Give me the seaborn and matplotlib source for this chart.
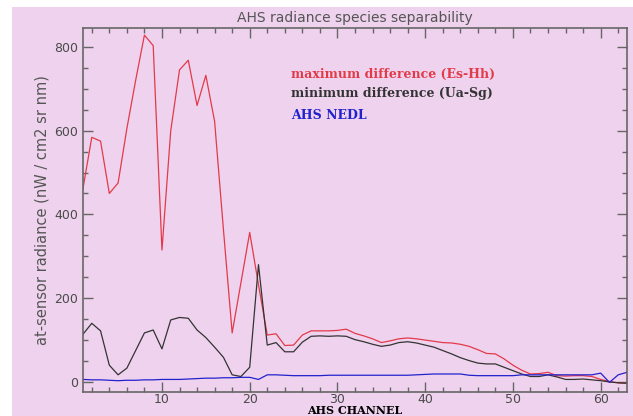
import numpy as np
import pandas as pd
import matplotlib
matplotlib.use('Agg')
import matplotlib.pyplot as plt
import seaborn as sns
from matplotlib.patches import Rectangle
from matplotlib.ticker import MultipleLocator

# AHS channels 1..63
channels = list(range(1, 64))

# maximum difference (Es-Hh)
max_diff = [462, 584, 575, 450, 475, 605, 720, 828, 803, 315,
            600, 745, 768, 660, 732, 622, 365, 117, 237, 357,
            232, 112, 115, 87, 88, 112, 122, 122, 122, 123,
            126, 116, 110, 103, 94, 98, 103, 105, 103, 100,
            97, 94, 93, 90, 85, 77, 68, 67, 55, 40,
            28, 19, 20, 23, 15, 14, 15, 15, 13, 6,
            1, -2, -3]

# minimum difference (Ua-Sg)
min_diff = [114, 140, 122, 40, 17, 33, 75, 117, 124, 79,
            148, 154, 152, 124, 106, 83, 59, 17, 13, 35,
            280, 88, 94, 72, 72, 95, 109, 110, 109, 110,
            109, 101, 96, 90, 85, 88, 94, 96, 93, 88,
            83, 75, 67, 58, 51, 45, 43, 43, 35, 27,
            19, 13, 13, 17, 12, 6, 6, 7, 5, 3,
            0, -2, -3]

# AHS NEDL
nedl = [6, 5, 5, 4, 3, 4, 4, 5, 5, 6,
        6, 6, 7, 8, 9, 9, 10, 10, 11, 11,
        6, 17, 17, 16, 15, 15, 15, 15, 16, 16,
        16, 16, 16, 16, 16, 16, 16, 16, 17, 18,
        19, 19, 19, 19, 16, 15, 15, 15, 15, 15,
        17, 17, 17, 17, 17, 17, 17, 17, 17, 21,
        -1, 17, 23]

series_labels = ['maximum difference (Es-Hh)', 'minimum difference (Ua-Sg)', 'AHS NEDL']
series_colors = ['#e23a48', '#333333', '#2222cc']

df = pd.DataFrame({'channel': channels * 3,
                   'radiance': max_diff + min_diff + nedl,
                   'series': [series_labels[0]] * 63 + [series_labels[1]] * 63 + [series_labels[2]] * 63})

bg = '#efd3ee'
fig = plt.figure(figsize=(6.33, 4.16), dpi=100)
fig.patch.set_facecolor(bg)
# white margin strips on the left and top of the scan
fig.add_artist(Rectangle((0, 0), 12 / 633, 1, transform=fig.transFigure,
                         facecolor='white', edgecolor='none', zorder=-1))
fig.add_artist(Rectangle((0, 409 / 416), 1, 7 / 416, transform=fig.transFigure,
                         facecolor='white', edgecolor='none', zorder=-1))
ax = fig.add_axes([83 / 633, 24 / 416, 544 / 633, 364 / 416])
ax.set_facecolor(bg)

sns.lineplot(data=df, x='channel', y='radiance', hue='series', palette=series_colors,
             hue_order=series_labels, linewidth=0.9, legend=False, ax=ax)

ax.set_xlim(1, 63)
ax.set_ylim(-24, 845)
ax.xaxis.set_major_locator(MultipleLocator(10))
ax.xaxis.set_minor_locator(MultipleLocator(2))
ax.yaxis.set_major_locator(MultipleLocator(200))
ax.yaxis.set_minor_locator(MultipleLocator(50))
ax.tick_params(which='both', direction='in', top=True, right=True, color='#666666',
               labelcolor='#4a4a4a', labelsize=9)
ax.tick_params(axis='x', pad=1)
ax.tick_params(which='major', length=7, width=1)
ax.tick_params(which='minor', length=3.5, width=1)
for s in ax.spines.values():
    s.set_color('#666666')
    s.set_linewidth(1.2)

ax.set_title('AHS radiance species separability', fontsize=10, color='#555555', pad=4)
ax.set_ylabel('at-sensor radiance (nW / cm2 sr nm)', fontsize=10.5, color='#555555', labelpad=3)
ax.set_xlabel('AHS CHANNEL', fontsize=8, fontweight='bold', family='DejaVu Serif',
              color='black', labelpad=-1)

for lab, col, yv in zip(series_labels, series_colors, [735, 689, 636]):
    ax.text(24.7, yv, lab, color=col, fontsize=9, fontweight='bold', family='DejaVu Serif',
            va='center', ha='left')

fig.savefig('out.png', dpi=100, facecolor=fig.get_facecolor())
